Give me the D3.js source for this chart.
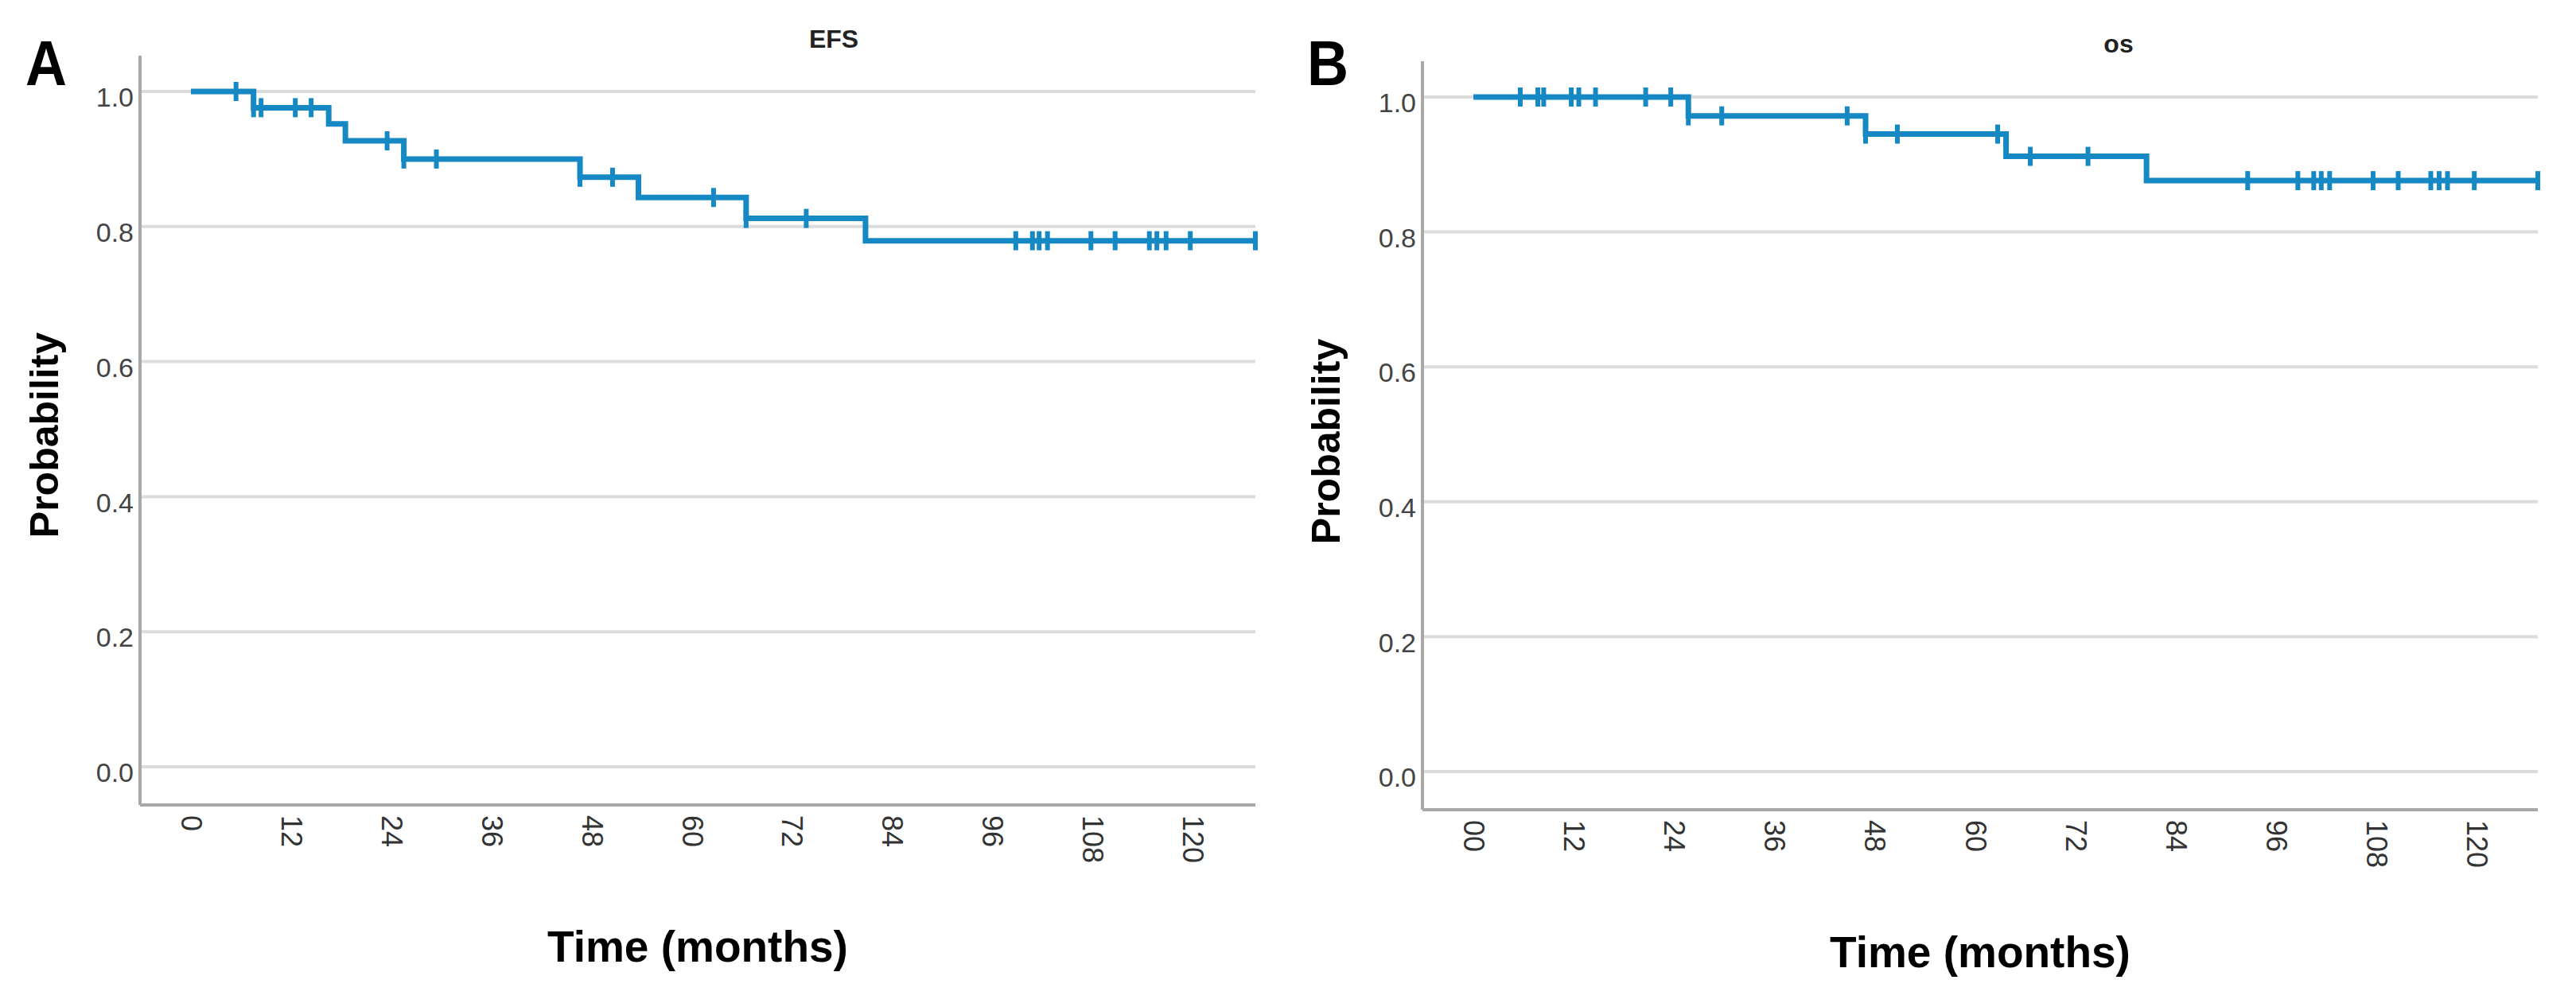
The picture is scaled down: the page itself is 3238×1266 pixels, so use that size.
<!DOCTYPE html>
<html>
<head>
<meta charset="utf-8">
<script src="https://cdn.jsdelivr.net/npm/d3@7"></script>
<style>
  body { margin: 0; background: #fff; }
  svg { display: block; font-family: "Liberation Sans", Arial, sans-serif; }
</style>
</head>
<body>
<div id="chart"></div>
<script>
const WIDTH = 3238;
const HEIGHT = 1266;
const LINE_COLOR = '#1689c5';

// x axis ticks (months)
const tickValues = [0, 12, 24, 36, 48, 60, 72, 84, 96, 108, 120];
const tickLabelsA = ['0', '12', '24', '36', '48', '60', '72', '84', '96', '108', '120'];
const tickLabelsB = ['00', '12', '24', '36', '48', '60', '72', '84', '96', '108', '120'];
const yTickValues = [0, 0.2, 0.4, 0.6, 0.8, 1.0];

// EFS curve
const efsEventTimes = [7.5, 16.5, 18.5, 25.5, 46.6, 53.6, 66.5, 80.8];
const efsSurvival = [1.0, 0.976, 0.952, 0.927, 0.900, 0.873, 0.843, 0.812, 0.779];
const efsCensored = [5.4, 7.5, 8.4, 12.5, 14.4, 23.5, 25.5, 29.4, 46.6, 50.5, 62.6, 66.5, 73.7,
    98.8, 100.8, 101.6, 102.6, 107.8, 110.7, 114.8, 115.7, 116.8, 119.7, 127.5];
const efsLastTime = 127.5;

// OS curve
const osEventTimes = [25.7, 46.9, 63.7, 80.5];
const osSurvival = [1.0, 0.972, 0.945, 0.912, 0.876];
const osCensored = [5.6, 7.7, 8.4, 11.7, 12.6, 14.6, 20.6, 23.6, 25.7, 29.7, 44.7, 46.9, 50.7,
    62.7, 66.6, 73.5, 92.6, 98.6, 100.5, 101.4, 102.4, 107.6, 110.6, 114.5, 115.5, 116.5, 119.7, 127.3];
const osLastTime = 127.3;

const svg = d3.select('#chart')
    .append('svg')
    .attr('width', WIDTH)
    .attr('height', HEIGHT);

svg.append('rect')
    .attr('width', WIDTH)
    .attr('height', HEIGHT)
    .attr('fill', '#fff');

// draws one Kaplan-Meier panel
function drawPanel(opts) {
    const xScale = d3.scaleLinear()
        .domain([-6.1, opts.lastTime])
        .range([opts.left, opts.right]);
    const yScale = d3.scaleLinear()
        .domain([-0.0565, 1.053])
        .range([opts.bottom, opts.top]);

    const g = svg.append('g');

    // horizontal gridlines
    g.selectAll('.grid')
        .data(yTickValues)
        .enter()
        .append('line')
        .attr('x1', opts.left)
        .attr('x2', opts.right)
        .attr('y1', d => yScale(d))
        .attr('y2', d => yScale(d))
        .attr('stroke', '#dcdcdc')
        .attr('stroke-width', 4);

    // y axis with labels
    const yAxis = d3.axisLeft(yScale)
        .tickValues(yTickValues)
        .tickFormat(d3.format('.1f'))
        .tickSize(0)
        .tickPadding(8);
    const yG = g.append('g')
        .attr('transform', `translate(${opts.left},0)`)
        .call(yAxis);
    yG.select('.domain').remove();
    yG.selectAll('text')
        .attr('font-size', 34)
        .attr('fill', '#444')
        .attr('dy', '0.55em')
        .attr('font-family', '"Liberation Sans", Arial, sans-serif');

    // x axis with rotated labels
    const xAxis = d3.axisBottom(xScale)
        .tickValues(tickValues)
        .tickFormat((d, i) => opts.tickLabels[i])
        .tickSize(0);
    const xG = g.append('g')
        .attr('transform', `translate(0,${opts.bottom})`)
        .call(xAxis);
    xG.select('.domain').remove();
    xG.selectAll('text')
        .attr('font-size', 36)
        .attr('fill', '#333')
        .attr('font-family', '"Liberation Sans", Arial, sans-serif')
        .attr('text-anchor', 'start')
        .attr('y', 0)
        .attr('dy', '0.35em')
        .attr('transform', 'translate(0,13) rotate(90)');

    // axis lines
    g.append('line')
        .attr('x1', opts.left).attr('x2', opts.left)
        .attr('y1', opts.top).attr('y2', opts.bottom)
        .attr('stroke', '#a8a8a8')
        .attr('stroke-width', 4);
    g.append('line')
        .attr('x1', opts.left).attr('x2', opts.right)
        .attr('y1', opts.bottom).attr('y2', opts.bottom)
        .attr('stroke', '#a8a8a8')
        .attr('stroke-width', 4);

    // step curve
    const points = [[0, opts.survival[0]]];
    opts.eventTimes.forEach((t, i) => points.push([t, opts.survival[i + 1]]));
    points.push([opts.lastTime, opts.survival[opts.survival.length - 1]]);

    const line = d3.line()
        .x(d => xScale(d[0]))
        .y(d => yScale(d[1]))
        .curve(d3.curveStepAfter);

    g.append('path')
        .datum(points)
        .attr('d', line)
        .attr('fill', 'none')
        .attr('stroke', LINE_COLOR)
        .attr('stroke-width', 7);

    // survival level at time t (right-continuous)
    function level(t) {
        let s = opts.survival[0];
        opts.eventTimes.forEach((e, i) => { if (t >= e) s = opts.survival[i + 1]; });
        return s;
    }

    // censor marks
    g.selectAll('.censor')
        .data(opts.censored)
        .enter()
        .append('line')
        .attr('x1', d => xScale(d))
        .attr('x2', d => xScale(d))
        .attr('y1', d => yScale(level(d)) - 12)
        .attr('y2', d => yScale(level(d)) + 12)
        .attr('stroke', LINE_COLOR)
        .attr('stroke-width', 6);

    // titles
    g.append('text')
        .attr('x', opts.titleX)
        .attr('y', opts.titleY)
        .attr('text-anchor', 'middle')
        .attr('font-size', 32)
        .attr('font-weight', 'bold')
        .attr('fill', '#222')
        .text(opts.title);

    g.append('text')
        .attr('x', opts.letterX)
        .attr('y', 107)
        .attr('text-anchor', 'middle')
        .attr('font-size', 80)
        .attr('font-weight', 'bold')
        .attr('fill', '#000')
        .attr('transform', `translate(${opts.letterX},0) scale(0.9,1) translate(${-opts.letterX},0)`)
        .text(opts.letter);

    g.append('text')
        .attr('transform', `translate(${opts.yLabelX},${opts.yLabelY}) rotate(-90)`)
        .attr('text-anchor', 'middle')
        .attr('font-size', 50)
        .attr('font-weight', 'bold')
        .attr('fill', '#000')
        .text('Probability');

    g.append('text')
        .attr('x', (opts.left + opts.right) / 2)
        .attr('y', opts.xLabelY)
        .attr('text-anchor', 'middle')
        .attr('font-size', 55)
        .attr('font-weight', 'bold')
        .attr('fill', '#000')
        .text('Time (months)');
}

drawPanel({
    left: 176, right: 1578, top: 70, bottom: 1012,
    lastTime: efsLastTime,
    tickLabels: tickLabelsA,
    eventTimes: efsEventTimes,
    survival: efsSurvival,
    censored: efsCensored,
    title: 'EFS', titleX: 1048, titleY: 60,
    letter: 'A', letterX: 58,
    yLabelX: 73, yLabelY: 547,
    xLabelY: 1209
});

drawPanel({
    left: 1788, right: 3190, top: 77, bottom: 1018,
    lastTime: osLastTime,
    tickLabels: tickLabelsB,
    eventTimes: osEventTimes,
    survival: osSurvival,
    censored: osCensored,
    title: 'os', titleX: 2663, titleY: 66,
    letter: 'B', letterX: 1669,
    yLabelX: 1684, yLabelY: 555,
    xLabelY: 1216
});
</script>
</body>
</html>
